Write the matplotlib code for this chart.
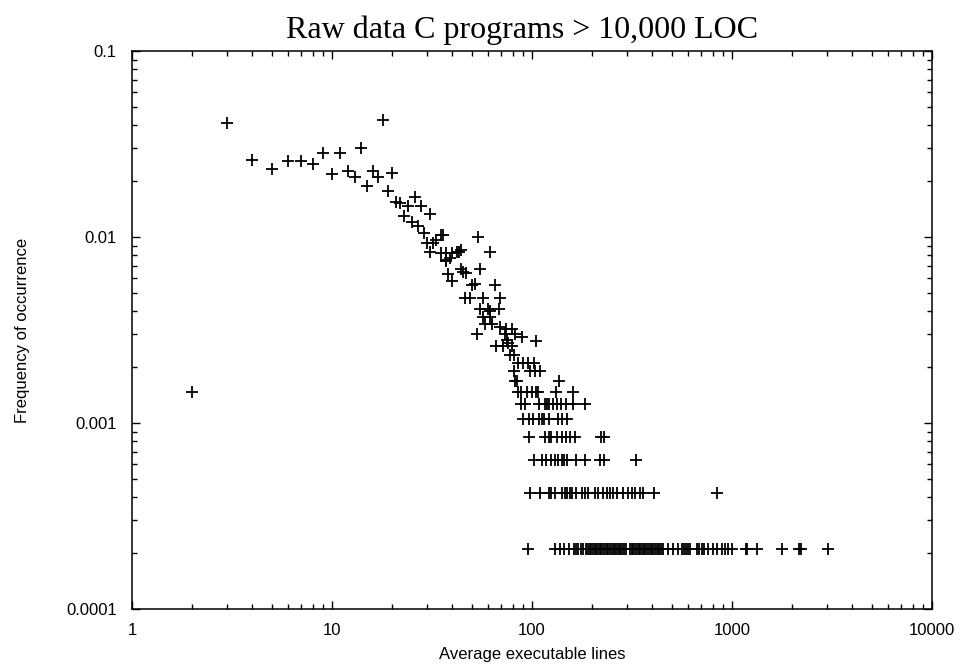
import matplotlib
matplotlib.use("Agg")
import matplotlib.pyplot as plt
from matplotlib.ticker import FixedLocator, FixedFormatter, LogLocator, NullFormatter

# ---------------- data ----------------
TOTAL = 4750  # number of functions (frequency = count / TOTAL)

# scattered points in the upper part: (average executable lines, frequency)
upper_x = [3, 4, 5, 6, 7, 8, 9, 10, 11, 12, 13, 14, 15, 16, 17, 18, 19, 20,
           21, 22, 23, 24, 25, 26, 27, 28, 29, 30, 31, 32, 33, 35, 36,
           31, 35, 37, 39, 40, 42, 43, 44, 37,
           54, 62, 55, 44, 45, 47, 38, 40, 50, 52, 65,
           46, 49, 57, 69, 55, 60, 62, 68, 57, 62, 58, 63,
           69, 74, 79, 82, 89, 105, 53, 73, 75, 76, 72, 66, 79, 37]
upper_y = [0.0408, 0.0259, 0.0231, 0.0257, 0.0257, 0.0247, 0.0282, 0.0217, 0.0282,
           0.0225, 0.0211, 0.0300, 0.0189, 0.0226, 0.0209, 0.0425, 0.0176, 0.0220,
           0.0155, 0.0152, 0.0130, 0.0146, 0.0121, 0.0165, 0.0114, 0.0146, 0.0105,
           0.0093, 0.0133, 0.0093, 0.0096, 0.0103, 0.0103,
           0.0083, 0.0082, 0.0075, 0.0077, 0.0082, 0.0083, 0.0083, 0.0085, 0.0082,
           0.0100, 0.0083, 0.0067, 0.0067, 0.0065, 0.0064, 0.0063, 0.0058, 0.0055,
           0.0056, 0.0055,
           0.0047, 0.0047, 0.0047, 0.0047, 0.0041, 0.0041, 0.0040, 0.0041, 0.0037,
           0.0037, 0.0034, 0.0034,
           0.0033, 0.0032, 0.0032, 0.0030, 0.0029, 0.00276, 0.0030, 0.0030, 0.0028,
           0.0027, 0.0026, 0.0026, 0.0026, 0.0074]

# quantised rows at the bottom: count -> list of average executable lines
row_11 = [78, 81]
row_10 = [85, 90, 95, 102]
row_9 = [81, 98, 103, 110]
row_8 = [82, 84, 137]
row_7 = [2, 85, 88, 94, 100, 105, 107, 132, 161]
row_6 = [88, 92, 108, 116, 119, 122, 128, 133, 139, 148, 161, 184]
row_5 = [90, 97, 101, 109, 112, 115, 122, 135, 142, 149]
row_4 = [97, 116, 121, 125, 133, 141, 148, 155, 164, 222, 228]
row_3 = [102, 112, 118, 124, 130, 135, 141, 145, 149, 166, 184, 219, 229, 331]
row_2 = [98, 110, 121, 125, 130, 142, 146, 150, 154, 158, 166, 177, 184, 191,
         207, 215, 227, 238, 245, 255, 267, 284, 303, 315, 327, 347, 360, 407, 838]
row_1 = [95, 130, 138, 145, 153, 162, 166, 170, 175, 179, 186, 190, 194, 198, 202,
         206, 210, 214, 218, 222, 227, 232, 236, 241, 246, 251, 256, 261, 266, 272,
         277, 283, 289, 295, 309, 315, 321, 328, 334, 341, 348, 355, 362, 369, 377,
         384, 392, 400, 408, 416, 425, 433, 442, 451, 480, 509, 539, 560, 578, 590,
         604, 617, 666, 687, 705, 724, 762, 807, 838, 888, 923, 959, 1004, 1175,
         1195, 1328, 1771, 2170, 2210, 3032]

rows = {11: row_11, 10: row_10, 9: row_9, 8: row_8, 7: row_7, 6: row_6,
        5: row_5, 4: row_4, 3: row_3, 2: row_2, 1: row_1}

x_ticks = [1, 10, 100, 1000, 10000]
x_tick_labels = ["1", "10", "100", "1000", "10000"]
y_ticks = [0.0001, 0.001, 0.01, 0.1]
y_tick_labels = ["0.0001", "0.001", "0.01", "0.1"]

title = "Raw data C programs > 10,000 LOC"
xlabel = "Average executable lines"
ylabel = "Frequency of occurrence"

# ---------------- build ----------------
all_x = list(upper_x)
all_y = list(upper_y)
for count, xs in rows.items():
    all_x += xs
    all_y += [count / TOTAL] * len(xs)

W, H = 963, 666
fig = plt.figure(figsize=(W / 100, H / 100), dpi=100)
ax = fig.add_axes([132 / W, 1 - 609 / H, 800 / W, 558 / H])

ax.plot(all_x, all_y, linestyle="none", marker="+", color="black",
        markersize=8.5, markeredgewidth=1.3)

ax.set_xscale("log")
ax.set_yscale("log")
ax.set_xlim(1, 10000)
ax.set_ylim(0.0001, 0.1)

sans = ["Liberation Sans", "DejaVu Sans"]
ax.xaxis.set_major_locator(FixedLocator(x_ticks))
ax.xaxis.set_major_formatter(FixedFormatter(x_tick_labels))
ax.yaxis.set_major_locator(FixedLocator(y_ticks))
ax.yaxis.set_major_formatter(FixedFormatter(y_tick_labels))
ax.xaxis.set_minor_locator(LogLocator(base=10, subs=range(2, 10), numticks=20))
ax.yaxis.set_minor_locator(LogLocator(base=10, subs=range(2, 10), numticks=20))
ax.xaxis.set_minor_formatter(NullFormatter())
ax.yaxis.set_minor_formatter(NullFormatter())

ax.tick_params(which="both", direction="in", top=True, right=True,
               color="black", width=1.0)
ax.tick_params(which="major", length=6)
ax.tick_params(which="minor", length=3.5)
ax.tick_params(axis="x", which="major", pad=10, labelsize=12)
ax.tick_params(axis="y", which="major", pad=11, labelsize=12)
for lab in ax.get_xticklabels() + ax.get_yticklabels():
    lab.set_family(sans)

for sp in ax.spines.values():
    sp.set_linewidth(1.1)
    sp.set_color("black")

fig.text(522 / W, 1 - 38 / H, title, ha="center", va="baseline",
         fontsize=23, family=["Liberation Serif", "DejaVu Serif"])
fig.text(532 / W, 1 - 655 / H, xlabel, ha="center", va="center",
         fontsize=12, family=sans)
fig.text(22 / W, 1 - 330 / H, ylabel, ha="center", va="center",
         rotation=90, fontsize=12, family=sans)

fig.savefig("out.png", dpi=100)
